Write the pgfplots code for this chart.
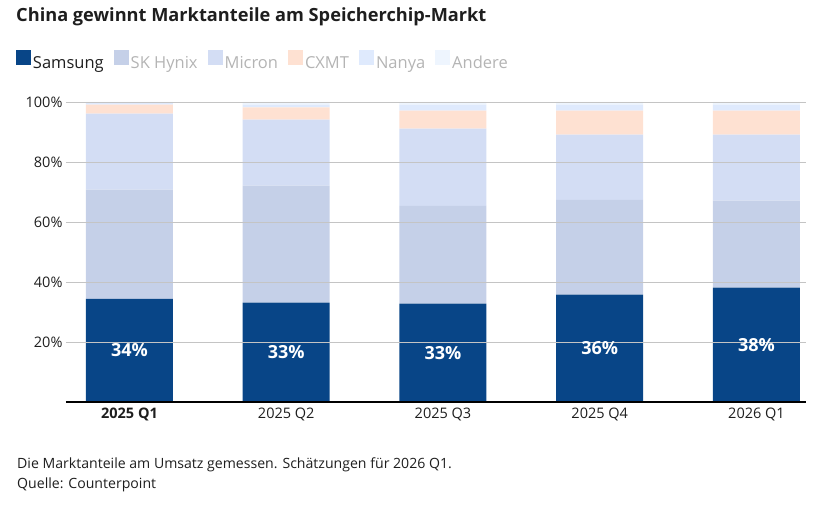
\documentclass[border=0pt]{standalone}
\usepackage{pgfplots}
\usepackage{pgfplotstable}
\pgfplotsset{compat=1.18}
\usepackage{fontspec}
\setmainfont{Open Sans}
\definecolor{csam}{HTML}{084587}
\definecolor{csk}{HTML}{C5D0E8}
\definecolor{cmic}{HTML}{D3DDF4}
\definecolor{ccx}{HTML}{FEE1D2}
\definecolor{cnan}{HTML}{DFEAFD}
\definecolor{cand}{HTML}{EEF5FE}
\definecolor{ctxt}{HTML}{1E1E1E}
\definecolor{cleg}{HTML}{B4B4B4}
\definecolor{cgrid}{HTML}{C4C4C4}

\pgfplotstableread{
x sam sk mic cx nan and
0 34.4 36.4 25.3 3.0 0.6 0.3
1 33.1 39.0 22.0 4.1 0.9 0.9
2 32.8 32.6 25.7 6.0 2.0 0.9
3 35.8 31.6 21.7 8.0 2.0 0.9
4 38.1 29.0 22.0 8.0 2.0 0.9
}\shares

\begin{document}
\begin{tikzpicture}[x=1pt,y=1pt]
\path (0,0) rectangle (835,504);
\node[anchor=base west, inner sep=0pt, text=ctxt, font=\bfseries\fontsize{18.2}{21}\selectfont] at (16,482) {China gewinnt Marktanteile am Speicherchip-Markt};
\begin{axis}[
  at={(66pt,102pt)}, anchor=south west,
  scale only axis, width=740pt, height=300pt,
  ybar stacked, bar width=0.555,
  xmin=-0.405, xmax=4.316, ymin=0, ymax=100,
  axis on top,
  axis x line*=bottom, axis y line*=left,
  x axis line style={-, black, line width=1.2pt},
  y axis line style={draw=none},
  major tick length=0pt,
  /pgf/number format/assume math mode=true,
  ytick={20,40,60,80,100},
  yticklabel={\pgfmathprintnumber{\tick}\%},
  ymajorgrids, grid style={cgrid, line width=0.8pt},
  xtick={0,1,2,3,4},
  xticklabels={\textbf{2025 Q1},2025 Q2,2025 Q3,2025 Q4,2026 Q1},
  tick label style={text=ctxt, font=\fontsize{14.5}{17}\selectfont},
  xticklabel style={yshift=-2pt},
  legend style={at={(-0.0676,1.14)}, anchor=west, draw=none, fill=none, inner sep=0pt, outer sep=0pt,
    font=\fontsize{16.5}{19}\selectfont, nodes={inner xsep=2pt, inner ysep=0pt},
    /tikz/every even column/.append style={column sep=8pt}},
  legend columns=-1,
  legend image code/.code={\fill[#1] (0pt,-2pt) rectangle (15pt,13pt);},
]
\addplot[fill=csam, draw=none] table[x=x,y=sam]{\shares};
\addlegendentry{\textcolor{ctxt}{Samsung}}
\addplot[fill=csk, draw=none] table[x=x,y=sk]{\shares};
\addlegendentry{\textcolor{cleg}{SK Hynix}}
\addplot[fill=cmic, draw=none] table[x=x,y=mic]{\shares};
\addlegendentry{\textcolor{cleg}{Micron}}
\addplot[fill=ccx, draw=none] table[x=x,y=cx]{\shares};
\addlegendentry{\textcolor{cleg}{CXMT}}
\addplot[fill=cnan, draw=none] table[x=x,y=nan]{\shares};
\addlegendentry{\textcolor{cleg}{Nanya}}
\addplot[fill=cand, draw=none] table[x=x,y=and]{\shares};
\addlegendentry{\textcolor{cleg}{Andere}}
\end{axis}
\begin{axis}[
  at={(66pt,102pt)}, anchor=south west,
  scale only axis, width=740pt, height=300pt,
  xmin=-0.405, xmax=4.316, ymin=0, ymax=100,
  hide axis,
]
\addplot[draw=none, mark=none, nodes near coords, point meta=explicit symbolic,
  every node near coord/.style={anchor=center, text=white, font=\bfseries\fontsize{18}{21}\selectfont}]
  coordinates {(0,17.2) [34\%] (1,16.55) [33\%] (2,16.4) [33\%] (3,17.9) [36\%] (4,19.05) [38\%]};
\end{axis}
\node[anchor=base west, inner sep=0pt, text=ctxt, font=\fontsize{14.1}{17}\selectfont] at (17,35.7) {Die Marktanteile am Umsatz gemessen. Schätzungen für 2026 Q1.};
\node[anchor=base west, inner sep=0pt, text=ctxt, font=\fontsize{14.1}{17}\selectfont] at (17,16) {Quelle: Counterpoint};
\end{tikzpicture}
\end{document}
